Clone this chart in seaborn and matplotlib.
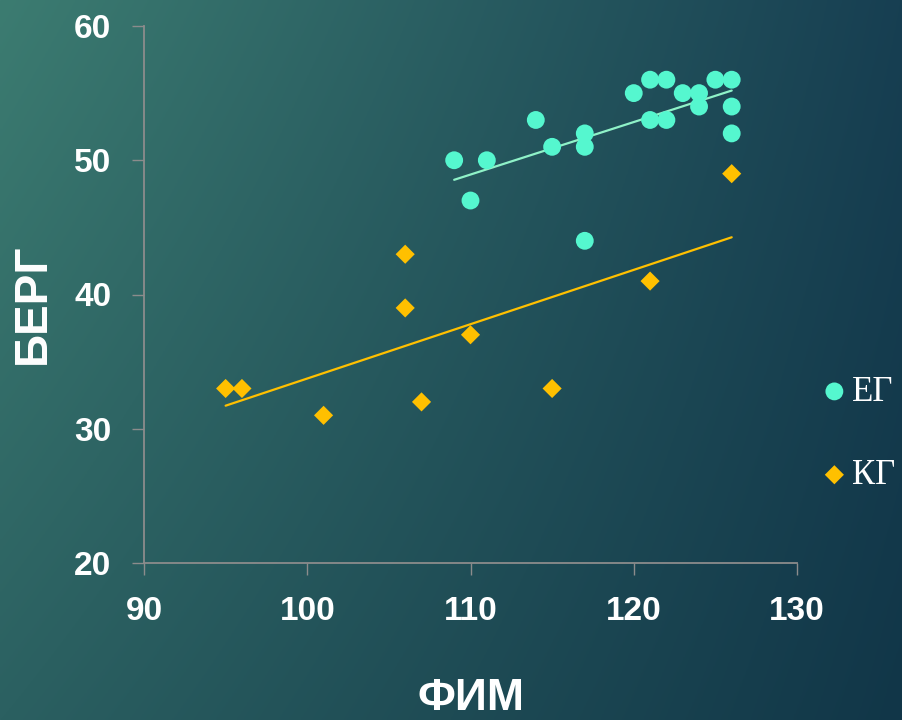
import numpy as np
import pandas as pd
import matplotlib
matplotlib.use("Agg")
import matplotlib.pyplot as plt
import seaborn as sns
from matplotlib.colors import to_rgb

# ---- data ----
eg_fim = [109, 110, 111, 114, 115, 117, 117, 117, 120, 121, 121, 122, 122, 123, 124, 124, 125, 126, 126, 126]
eg_berg = [50, 47, 50, 53, 51, 52, 51, 44, 55, 56, 53, 56, 53, 55, 55, 54, 56, 56, 54, 52]
kg_fim = [95, 96, 101, 106, 106, 107, 110, 115, 121, 126]
kg_berg = [33, 33, 31, 43, 39, 32, 37, 33, 41, 49]
x_ticks = [90, 100, 110, 120, 130]
y_ticks = [20, 30, 40, 50, 60]
group_names = ["ЕГ", "КГ"]

eg = pd.DataFrame({"ФИМ": eg_fim, "БЕРГ": eg_berg})
kg = pd.DataFrame({"ФИМ": kg_fim, "БЕРГ": kg_berg})

sns.set_theme(style="ticks")
plt.rcParams["font.family"] = ["Liberation Sans", "DejaVu Sans"]

W, H, DPI = 902, 720, 100
fig = plt.figure(figsize=(W / DPI, H / DPI), dpi=DPI)

# gradient background
tl, tr = np.array(to_rgb("#3c7c71")), np.array(to_rgb("#173f52"))
bl, br = np.array(to_rgb("#2b6061")), np.array(to_rgb("#113648"))
u = np.linspace(0, 1, 300)[None, :, None]
v = np.linspace(0, 1, 240)[:, None, None]
grad = (1 - v) * ((1 - u) * tl + u * tr) + v * ((1 - u) * bl + u * br)
bg = fig.add_axes([0, 0, 1, 1], zorder=-10)
bg.imshow(grad, aspect="auto", extent=[0, 1, 0, 1], origin="upper")
bg.axis("off")

ax = fig.add_axes([144 / W, 1 - 563 / H, (797 - 144) / W, (563 - 26) / H])
ax.set_facecolor("none")

eg_col = "#55f7cf"
kg_col = "#ffc000"

sns.regplot(data=eg, x="ФИМ", y="БЕРГ", scatter=False, ci=None, ax=ax,
            line_kws=dict(color="#8ff2c8", lw=1.6, zorder=2))
sns.regplot(data=kg, x="ФИМ", y="БЕРГ", scatter=False, ci=None, ax=ax,
            line_kws=dict(color=kg_col, lw=1.6, zorder=2))
sns.scatterplot(data=eg, x="ФИМ", y="БЕРГ", ax=ax, marker="o", s=165,
                color=eg_col, edgecolor="none", label=group_names[0], zorder=3)
sns.scatterplot(data=kg, x="ФИМ", y="БЕРГ", ax=ax, marker="D", s=95,
                color=kg_col, edgecolor="none", label=group_names[1], zorder=3)

ax.set_xlim(90, 130)
ax.set_ylim(20, 60)
ax.set_xticks(x_ticks)
ax.set_yticks(y_ticks)
for s in ["top", "right"]:
    ax.spines[s].set_visible(False)
for s in ["left", "bottom"]:
    ax.spines[s].set_color("#8c8c8c")
    ax.spines[s].set_linewidth(1.3)
ax.tick_params(axis="both", which="major", bottom=True, left=True, top=False, right=False,
               direction="out", length=8.5, width=1.0, color="#8c8c8c",
               labelcolor="white", labelsize=24, pad=15)
for lab in ax.get_xticklabels() + ax.get_yticklabels():
    lab.set_fontweight("bold")

ax.set_xlabel("ФИМ", fontsize=32, fontweight="bold", color="white", va="center")
ax.xaxis.set_label_coords(0.5, -0.253)
ax.set_ylabel("БЕРГ", fontsize=33, fontweight="bold", color="white", va="center")
ax.yaxis.set_label_coords(-0.170, 0.482)

leg = ax.legend(loc="upper left", bbox_to_anchor=(1.02, 0.375), frameon=False,
                prop=dict(family="Liberation Serif", size=25),
                labelspacing=1.45, handlelength=0.6, handletextpad=0.2,
                borderaxespad=0, markerscale=1.0)
for t in leg.get_texts():
    t.set_color("white")

fig.savefig("out.png", dpi=DPI)
